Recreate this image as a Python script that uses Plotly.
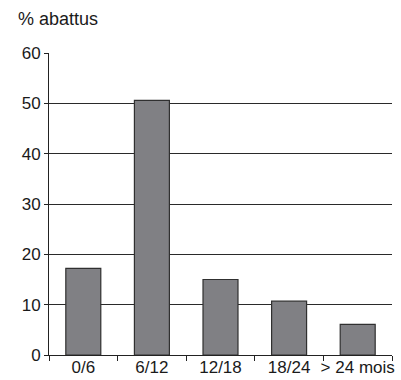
import plotly.graph_objects as go

categories = ["0/6", "6/12", "12/18", "18/24", "> 24 mois"]
values = [17.2, 50.6, 15.0, 10.7, 6.1]
y_ticks = [0, 10, 20, 30, 40, 50, 60]

fig = go.Figure(go.Bar(
    x=categories, y=values,
    marker=dict(color="#808084", line=dict(color="#303030", width=1.2)),
))

fig.update_layout(
    width=401, height=380,
    margin=dict(l=49, r=9, t=53, b=25, autoexpand=False),
    plot_bgcolor="white", paper_bgcolor="white",
    bargap=0.49,
    showlegend=False,
    font=dict(family="Liberation Sans, Arial, sans-serif", color="#1a1a1a", size=17),
    annotations=[dict(text="% abattus", xref="paper", yref="paper", x=-0.095, y=1.0,
                      yshift=22, xanchor="left", yanchor="bottom", showarrow=False,
                      font=dict(size=18))],
)
fig.update_xaxes(
    showline=True, linecolor="#222", linewidth=1, automargin=False, tickangle=0,
    ticks="outside", tickson="boundaries", ticklen=5, tickcolor="#222",
    tickfont=dict(size=17), showgrid=False, ticklabelstandoff=-3,
)
fig.update_yaxes(
    range=[0, 60], tickvals=y_ticks, automargin=False,
    showline=True, linecolor="#222", linewidth=1,
    ticks="outside", ticklen=4, tickcolor="#222",
    showgrid=True, gridcolor="#2a2a2a", gridwidth=1,
    tickfont=dict(size=17), zeroline=False,
)

fig.write_html("out.html", config={"displayModeBar": False},
               post_script="document.body.style.margin='0';")
